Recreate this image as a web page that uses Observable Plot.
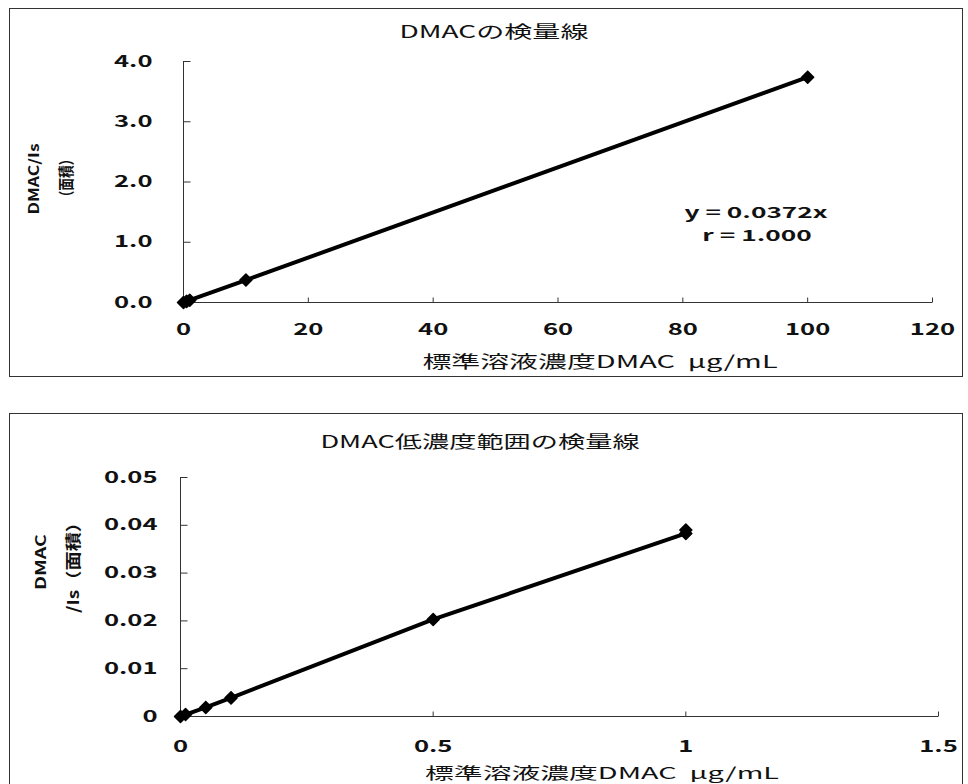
<!DOCTYPE html>
<html><head><meta charset="utf-8">
<script src="https://cdn.jsdelivr.net/npm/d3@7"></script>
<script src="https://cdn.jsdelivr.net/npm/@observablehq/plot@0.6"></script>
<style>
html,body{margin:0;padding:0;background:#fff;}
#page{position:relative;width:968px;height:784px;overflow:hidden;background:#fff;font-family:'Noto Sans CJK JP',sans-serif;color:#111;}
.box{position:absolute;border:1px solid #333;box-sizing:border-box;}
.lbl{position:absolute;white-space:pre;line-height:1;}
.plotwrap{position:absolute;left:0;}
</style></head>
<body><div id="page"></div>
<script>
// ---- data ----
const topConc  = [0, 0.5, 1, 10, 100];
const topRatio = [0, 0.019, 0.038, 0.372, 3.74];
const lowConc  = [0, 0.01, 0.05, 0.1, 0.5, 1, 1];
const lowRatio = [0, 0.0004, 0.0019, 0.0039, 0.0203, 0.0383, 0.0390];
const topXTicks = [0, 20, 40, 60, 80, 100, 120];
const topYTicks = [0, 1, 2, 3, 4];
const lowXTicks = [0, 0.5, 1, 1.5];
const lowYTicks = [0, 0.01, 0.02, 0.03, 0.04, 0.05];
const topTitle = "DMACの検量線";
const lowTitle = "DMAC低濃度範囲の検量線";
const xLabel = "標準溶液濃度DMAC  μg/mL";
const topYLabel = ["DMAC/Is", "（面積）"];
const lowYLabel = ["DMAC", "/Is（面積）"];
const eqLines = ["y = 0.0372x", "r = 1.000"];

const page = document.getElementById("page");
const topData = topConc.map((c, i) => ({c, v: topRatio[i]}));
const lowData = lowConc.map((c, i) => ({c, v: lowRatio[i]}));

const tickUp = {draw(ctx, size){ const l = Math.sqrt(size/Math.PI); ctx.moveTo(0,0); ctx.lineTo(0,-l); }};
const tickRight = {draw(ctx, size){ const l = Math.sqrt(size/Math.PI); ctx.moveTo(0,0); ctx.lineTo(l,0); }};
const squareDiamond = {draw(ctx, size){ const l = Math.sqrt(size/Math.PI);
  ctx.moveTo(0,-l); ctx.lineTo(l,0); ctx.lineTo(0,l); ctx.lineTo(-l,0); ctx.closePath(); }};

function box(left, top, w, h){
  const d = document.createElement("div"); d.className = "box";
  Object.assign(d.style, {left:left+"px", top:top+"px", width:w+"px", height:h+"px"});
  page.appendChild(d);
}
function label(text, x, y, size, sx, weight, rotate){
  const d = document.createElement("div"); d.className = "lbl"; d.textContent = text;
  Object.assign(d.style, {left:x+"px", top:y+"px", fontSize:size+"px", fontWeight:weight||"normal",
    transform:`translate(-50%,-50%)${rotate?" rotate(-90deg)":""} scaleX(${sx})`});
  page.appendChild(d);
}
function stretch(svg, s){
  svg.querySelectorAll("text").forEach(t => {
    const x = +t.getAttribute("x") || 0, y = +t.getAttribute("y") || 0;
    const tr = t.getAttribute("transform") || "";
    t.setAttribute("transform", `${tr} translate(${x},${y}) scale(${s},1) translate(${-x},${-y})`);
  });
}
function chart(cfg){
  const svg = Plot.plot({
    width: 968, height: cfg.height,
    marginLeft: cfg.ml, marginRight: cfg.mr, marginTop: cfg.mt, marginBottom: cfg.mb,
    style: {background:"transparent", fontFamily:"'Noto Sans CJK JP', sans-serif", fontSize:"16px", fontWeight:"bold", color:"#111", overflow:"visible"},
    x: {domain: cfg.xd, ticks: cfg.xt, tickSize: 0, tickPadding: cfg.xpad, label: null, tickFormat: cfg.xf},
    y: {domain: cfg.yd, ticks: cfg.yt, tickSize: 0, tickPadding: cfg.ypad, label: null, tickFormat: cfg.yf},
    marks: [
      Plot.ruleX([0], {stroke:"#333", strokeWidth:1}),
      Plot.ruleY([0], {stroke:"#333", strokeWidth:1}),
      Plot.dot(cfg.xt, {x: d => d, y: () => 0, symbol: tickUp, r: 5, stroke:"#333", fill:"none", strokeWidth:1}),
      Plot.dot(cfg.yt, {x: () => 0, y: d => d, symbol: tickRight, r: 7, stroke:"#333", fill:"none", strokeWidth:1}),
      Plot.line(cfg.data, {x:"c", y:"v", stroke:"#000", strokeWidth:4}),
      Plot.dot(cfg.data, {x:"c", y:"v", symbol: squareDiamond, r:6, fill:"#000", stroke:"#000", strokeWidth:1.5, strokeLinejoin:"round"})
    ]
  });
  stretch(svg, 1.6);
  const w = document.createElement("div"); w.className = "plotwrap"; w.style.top = cfg.top + "px";
  w.appendChild(svg); page.appendChild(w);
}

box(9, 8, 954, 369);
box(9, 413, 954, 400);

chart({top: 8, height: 368, ml: 183, mr: 36, mt: 53, mb: 74,
  xd: [0, 120], yd: [0, 4], xt: topXTicks, yt: topYTicks, xpad: 21, ypad: 31,
  xf: d3.format("d"), yf: d => d.toFixed(1), data: topData});
chart({top: 413, height: 371, ml: 180, mr: 30, mt: 64, mb: 68,
  xd: [0, 1.5], yd: [0, 0.05], xt: lowXTicks, yt: lowYTicks, xpad: 24, ypad: 23,
  xf: d => String(d), yf: d => String(+d.toFixed(2)), data: lowData});

label(topTitle, 494, 30, 17, 1.65);
label(xLabel, 600, 360, 17, 1.7);
label(eqLines[0], 756, 211, 15, 1.75, "bold");
label(eqLines[1], 757, 234, 15, 1.75, "bold");
label(topYLabel[0], 33, 179, 14, 1.25, "bold", true);
label(topYLabel[1], 65, 178, 16, 0.8, "bold", true);

label(lowTitle, 480, 440, 17, 1.6);
label(xLabel, 602, 772, 16, 1.8);
label(lowYLabel[0], 40, 562, 14, 1.4, "bold", true);
label(lowYLabel[1], 72, 563, 16, 1.2, "bold", true);
</script>
</body></html>
